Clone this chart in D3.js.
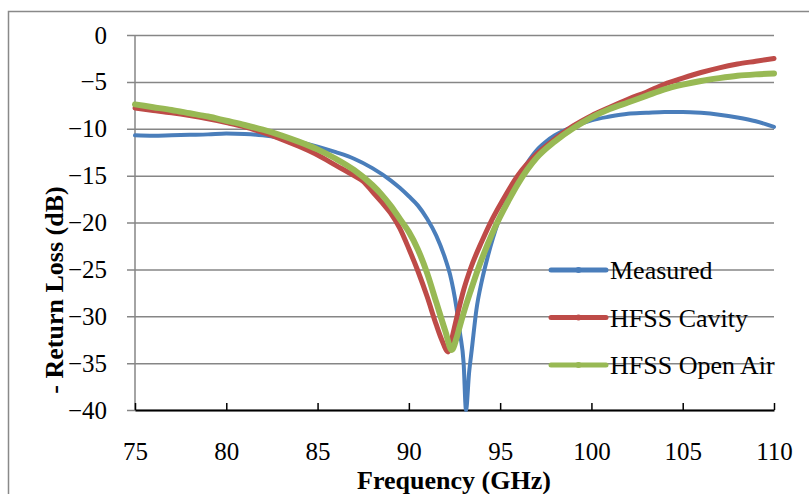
<!DOCTYPE html>
<html>
<head>
<meta charset="utf-8">
<script src="https://cdn.jsdelivr.net/npm/d3@7"></script>
<style>
  body { margin: 0; background: #fff; }
  svg { display: block; }
  text { font-family: "Liberation Serif", "Times New Roman", serif; fill: #000; }
</style>
</head>
<body>
<svg id="chart" width="809" height="494"></svg>
<script>
// Measured return loss (GHz, dB)
const measuredFreq = [75, 76, 77, 78, 79, 80, 81, 82, 83, 84, 85, 86, 87, 88, 89, 89.5, 90, 90.5, 91, 91.5, 92, 92.25, 92.6, 92.8, 93.0, 93.13, 93.3, 93.45, 93.7, 94, 94.3, 94.6, 95, 95.4, 96, 96.5, 97, 97.5, 98, 98.5, 99, 100, 101, 102, 103, 104, 105, 106, 107, 108, 109, 110]
const measuredDb = [-10.7, -10.75, -10.7, -10.65, -10.6, -10.5, -10.55, -10.7, -11.0, -11.4, -11.9, -12.5, -13.2, -14.2, -15.5, -16.3, -17.2, -18.2, -19.6, -21.4, -23.9, -25.5, -29.0, -31.8, -35, -40, -36, -33.5, -29.3, -26.2, -23.8, -21.7, -19.4, -17.5, -15.2, -13.6, -12.3, -11.4, -10.7, -10.2, -9.8, -9.1, -8.7, -8.4, -8.3, -8.2, -8.2, -8.3, -8.5, -8.8, -9.2, -9.8]

// HFSS cavity simulation
const cavityFreq = [75, 76, 77, 78, 79, 80, 81, 82, 83, 84, 85, 86, 87, 87.5, 88, 88.5, 89, 89.5, 90, 90.5, 91, 91.5, 91.8, 92.15, 92.4, 92.7, 93.0, 93.4, 94, 94.5, 95, 96, 97, 98, 99, 100, 101, 102, 103, 104, 105, 106, 107, 108, 109, 110]
const cavityDb = [-7.8, -8.05, -8.3, -8.6, -8.95, -9.35, -9.8, -10.4, -11.1, -11.9, -12.8, -13.9, -15.0, -15.6, -16.7, -17.8, -19.0, -20.6, -22.8, -25.2, -27.9, -30.9, -32.5, -33.8, -32.0, -29.5, -27.2, -24.8, -22.0, -19.9, -18.1, -14.9, -12.7, -11.1, -9.7, -8.6, -7.7, -6.85, -6.1, -5.25, -4.6, -4.0, -3.5, -3.1, -2.8, -2.5]

// HFSS open air simulation
const openAirFreq = [75, 76, 77, 78, 79, 80, 81, 82, 83, 84, 85, 86, 87, 88, 88.5, 89, 89.5, 90, 90.5, 91, 91.5, 92, 92.35, 92.6, 92.8, 93.07, 93.4, 93.8, 94.3, 94.72, 95.45, 96, 97, 98, 99, 100, 101, 102, 103, 104, 105, 106, 107, 108, 109, 110]
const openAirDb = [-7.4, -7.7, -8.0, -8.35, -8.7, -9.15, -9.6, -10.1, -10.7, -11.4, -12.2, -13.2, -14.4, -16.0, -17.0, -18.2, -19.6, -21.0, -22.9, -25.4, -28.5, -31.6, -33.6, -32.4, -31.0, -29.2, -27.2, -24.9, -22.4, -20.5, -17.7, -15.8, -13.1, -11.35, -9.95, -8.8, -7.9, -7.2, -6.5, -5.8, -5.3, -4.9, -4.6, -4.35, -4.2, -4.1]

const seriesNames = ["Measured", "HFSS Cavity", "HFSS Open Air"]
const seriesColors = ["#4a7ebb", "#be4b48", "#98b954"]
const seriesWidths = [4, 5, 6]

const xTicks = [75, 80, 85, 90, 95, 100, 105, 110]
const yTicks = [0, -5, -10, -15, -20, -25, -30, -35, -40]

const svg = d3.select("#chart")
const plotLeft = 135, plotRight = 774, plotTop = 35, plotBottom = 410

const x = d3.scaleLinear().domain([75, 110]).range([plotLeft, plotRight])
const y = d3.scaleLinear().domain([-40, 0]).range([plotBottom, plotTop])

// outer chart frame
svg.append("rect")
  .attr("x", 8.5).attr("y", 11.5)
  .attr("width", 820).attr("height", 500)
  .attr("fill", "none").attr("stroke", "#898989").attr("stroke-width", 1.5)

// horizontal gridlines + y axis
const yAxis = d3.axisLeft(y).tickValues(yTicks).tickSize(plotRight - plotLeft + 8).tickFormat(d3.format("d"))
svg.append("g")
  .attr("transform", `translate(${plotRight},0)`)
  .call(yAxis)
  .call((g) => g.select(".domain").remove())
  .call((g) => g.selectAll(".tick line").attr("stroke", "#868686").attr("stroke-width", 1.5))
  .call((g) => g.selectAll(".tick text")
    .attr("x", -(plotRight - plotLeft) - 28)
    .style("font-size", "25px")
    .style("font-family", "Liberation Serif"))

svg.append("line")
  .attr("x1", plotLeft).attr("x2", plotLeft)
  .attr("y1", plotTop).attr("y2", plotBottom)
  .attr("stroke", "#868686").attr("stroke-width", 1.5)

// x axis, ticks pointing into the plot
const xAxis = d3.axisTop(x).tickValues(xTicks).tickSize(7).tickSizeOuter(0).tickFormat(d3.format("d"))
const gx = svg.append("g")
  .attr("transform", `translate(0,${plotBottom})`)
  .call(xAxis)
gx.select(".domain").attr("stroke", "#000").attr("stroke-width", 2)
gx.selectAll(".tick line").attr("stroke", "#000").attr("stroke-width", 1.5)
gx.selectAll(".tick text")
  .attr("y", 50)
  .style("font-size", "25px")
  .style("font-family", "Liberation Serif")

// curves
const line = d3.line()
  .x((d) => x(d[0]))
  .y((d) => y(d[1]))
  .curve(d3.curveMonotoneX)

const series = [
  d3.zip(measuredFreq, measuredDb),
  d3.zip(cavityFreq, cavityDb),
  d3.zip(openAirFreq, openAirDb)
]

svg.append("g")
  .selectAll("path")
  .data(series)
  .join("path")
  .attr("d", line)
  .attr("fill", "none")
  .attr("stroke", (d, i) => seriesColors[i])
  .attr("stroke-width", (d, i) => seriesWidths[i])
  .attr("stroke-linejoin", "round")
  .attr("stroke-linecap", "round")

// legend (no frame, sits on the gridlines)
const legend = svg.append("g")
  .selectAll("g")
  .data(seriesNames)
  .join("g")
  .attr("transform", (d, i) => `translate(551,${270 + i * 47.5})`)

legend.append("line")
  .attr("x1", 0).attr("x2", 55)
  .attr("stroke", (d, i) => seriesColors[i])
  .attr("stroke-width", 5)
  .attr("stroke-linecap", "round")

legend.append("circle")
  .attr("cx", 27.5).attr("r", 3)
  .attr("fill", (d, i) => seriesColors[i])

legend.append("text")
  .attr("x", 59).attr("y", 9)
  .style("font-size", "26px")
  .text((d) => d)

// axis titles
svg.append("text")
  .attr("x", 454).attr("y", 489)
  .attr("text-anchor", "middle")
  .style("font-size", "26px")
  .style("font-weight", "bold")
  .text("Frequency (GHz)")

svg.append("text")
  .attr("transform", "translate(63,290) rotate(-90)")
  .attr("text-anchor", "middle")
  .style("font-size", "26px")
  .style("font-weight", "bold")
  .text("- Return Loss (dB)")
</script>
</body>
</html>
